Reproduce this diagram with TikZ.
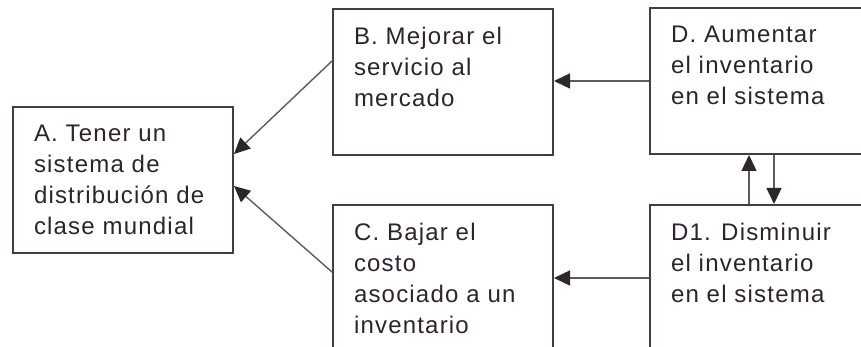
\documentclass[tikz,border=0pt]{standalone}
\usepackage{fontspec}
\setmainfont[LetterSpace=5]{Liberation Sans}
\usetikzlibrary{positioning}
\usetikzlibrary{arrows.meta}

\definecolor{boxline}{RGB}{70,58,70}
\definecolor{arrline}{RGB}{95,90,95}
\definecolor{arrhead}{RGB}{45,38,45}
\definecolor{inktext}{RGB}{45,35,45}

\newcommand{\boxlines}[1]{\parbox[c][110pt][t]{178pt}{\raggedright #1}}

\tikzset{
	goalbox/.style = {draw = boxline, line width = 2pt, anchor = north west, inner xsep = 21pt, inner ysep = 18pt,
		text = inktext, font = \fontsize{24pt}{31pt}\selectfont},
	link/.style = {draw = arrline, line width = 1.4pt, ->}
}

\begin{document}
\begin{tikzpicture}[x = 1pt, y = -1pt, >={Triangle[length = 16pt, width = 15pt, color = arrhead, fill = arrhead]}]
	\useasboundingbox (0, 0) rectangle (861, 347);
	\node[goalbox] (A) at (12, 106) {\boxlines{A. Tener un\\ sistema de\\ distribución de\\ clase mundial}};
	\node[goalbox] (B) at (332, 8) {\boxlines{B. Mejorar el\\ servicio al\\ mercado}};
	\node[goalbox] (C) at (332, 204) {\boxlines{C. Bajar el\\ costo\\ asociado a un\\ inventario}};
	\node[goalbox] (D) at (649, 7) {\boxlines{D. Aumentar\\ el inventario\\ en el sistema}};
	\node[goalbox] (D1) at (649, 204) {\boxlines{D1. Disminuir\\ el inventario\\ en el sistema}};
	\draw[link] ([yshift = -53pt]B.north west)--([yshift = 26pt]A.east);
	\draw[link] ([yshift = -68pt]C.north west)--([yshift = -6pt]A.east);
	\draw[link] (D.west)--(D.west -| B.east);
	\draw[link] (D1.west)--(D1.west -| C.east);
	\draw[link] ([xshift = -11pt]D1.north)--([xshift = -11pt]D.south);
	\draw[link] ([xshift = 14pt]D.south)--([xshift = 14pt]D1.north);
\end{tikzpicture}
\end{document}
